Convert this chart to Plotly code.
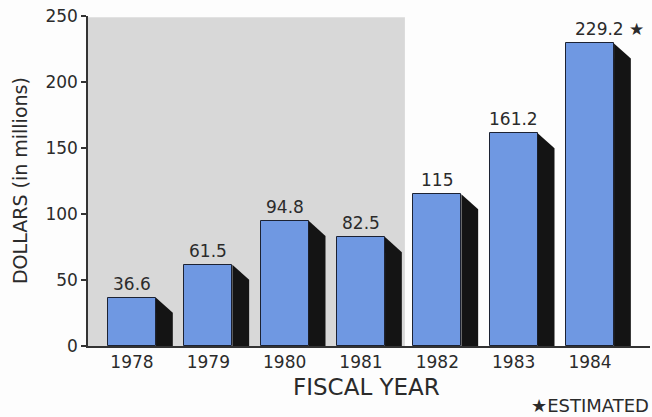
import plotly.graph_objects as go

# Fiscal-year spending, dollars in millions
years = ["1978", "1979", "1980", "1981", "1982", "1983", "1984"]
values = [36.6, 61.5, 94.8, 82.5, 115, 161.2, 229.2]
estimated = [False, False, False, False, False, False, True]
y_ticks = [0, 50, 100, 150, 200, 250]
shaded_years = 4  # first four years sit on the grey panel

FACE = "#6f98e2"
EDGE = "#1c2233"
SHADOW = "#141414"
INK = "#2b2b2b"
FONT = "DejaVu Sans"

pos = list(range(len(years)))
bar_w = 0.63
depth_x = 0.22
depth_y = 11.4
x_lo, x_hi = -0.576, 6.786

fig = go.Figure()
fig.add_trace(go.Bar(
    x=pos, y=values, width=bar_w,
    marker=dict(color=FACE, line=dict(color=EDGE, width=1)),
    hoverinfo="skip",
))

shapes = []
# grey panel behind the earlier years
shapes.append(dict(
    type="rect", xref="x", yref="y", layer="below",
    x0=x_lo, x1=shaded_years - 1 + 0.575, y0=0, y1=249,
    fillcolor="#d8d8d8", line=dict(width=0),
))
# dark side face of each bar
for p, v in zip(pos, values):
    xr = p + bar_w / 2
    path = (f"M {xr} {v} L {xr + depth_x} {v - depth_y} "
            f"L {xr + depth_x} 0 L {xr} 0 Z")
    shapes.append(dict(type="path", xref="x", yref="y", path=path,
                       fillcolor=SHADOW, line=dict(width=0), layer="above"))

annotations = []
for p, v, est in zip(pos, values, estimated):
    annotations.append(dict(
        x=p, y=v, xref="x", yref="y", text=f"{v:g}" + (" ★" if est else ""),
        showarrow=False, xanchor="center", yanchor="bottom", yshift=2,
        xshift=19 if est else 0,
        font=dict(family=FONT, size=17, color=INK),
    ))
annotations += [
    dict(x=-0.121, y=0.503, xref="paper", yref="paper", text="DOLLARS (in millions)",
         xanchor="center", yanchor="middle", textangle=-90, showarrow=False,
         font=dict(family=FONT, size=19, color=INK)),
    dict(x=0.496, y=-0.123, xref="paper", yref="paper", text="FISCAL YEAR",
         xanchor="center", yanchor="middle", showarrow=False,
         font=dict(family=FONT, size=23, color=INK)),
    dict(x=1.0018, y=-0.179, xref="paper", yref="paper", text="★ESTIMATED",
         xanchor="right", yanchor="middle", showarrow=False,
         font=dict(family=FONT, size=18, color=INK)),
]

fig.update_layout(
    width=652, height=417,
    margin=dict(l=88, r=2, t=16, b=71),
    paper_bgcolor="#fdfdfd", plot_bgcolor="rgba(0,0,0,0)",
    showlegend=False, shapes=shapes, annotations=annotations,
    bargap=0,
)
fig.update_xaxes(
    range=[x_lo, x_hi], tickvals=pos, ticktext=years, showgrid=False, zeroline=False,
    showline=True, linecolor="#333333", linewidth=1.5, ticks="",
    tickfont=dict(family=FONT, size=17, color=INK),
)
fig.update_yaxes(
    range=[0, 250], tickvals=y_ticks, showgrid=False, zeroline=False,
    showline=True, linecolor="#333333", linewidth=1.5,
    ticks="outside", ticklen=5, tickcolor="#333333", tickwidth=1.5,
    tickfont=dict(family=FONT, size=17, color=INK),
)

fig.write_html("out.html")
